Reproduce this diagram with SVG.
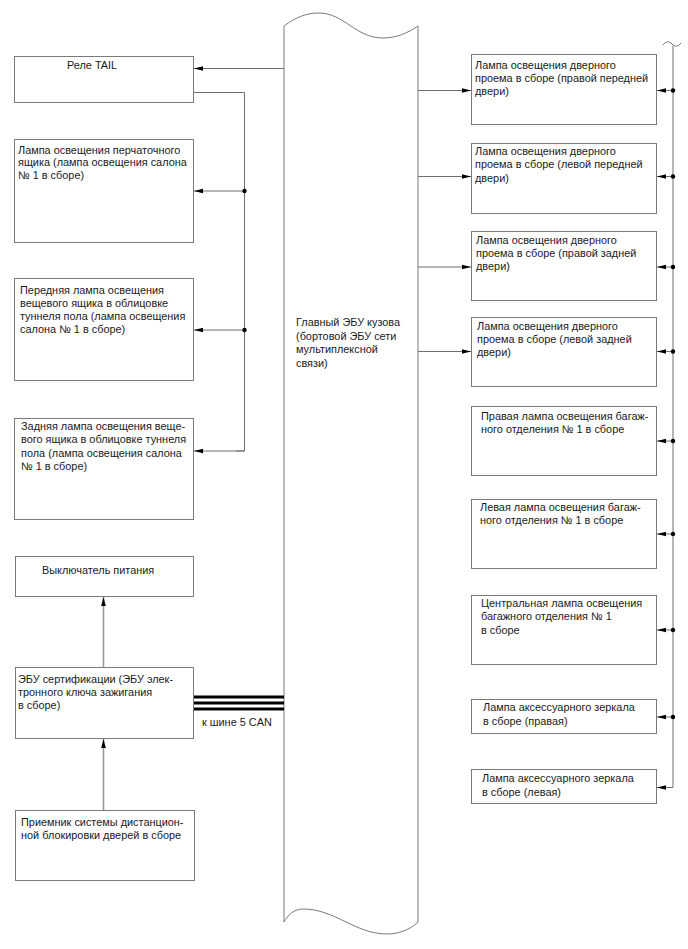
<svg xmlns="http://www.w3.org/2000/svg" width="688" height="949" viewBox="0 0 688 949">
<style>
  .box { fill: #ffffff; stroke: #7a7a7a; stroke-width: 1; }
  .t { font-family: "Liberation Sans", Arial, sans-serif; font-size: 10.9px; fill: #1a1a1a; }
  .ln { fill: none; stroke: #6e6e6e; stroke-width: 1; }
  .arr { marker-end: url(#ah); }
  .vln { fill: none; stroke: #9a9a9a; stroke-width: 1.6; marker-end: url(#ah); }
  .can { stroke: #000000; stroke-width: 3; }
  .dot { fill: #000000; }
</style>
<defs>
  <marker id="ah" markerUnits="userSpaceOnUse" markerWidth="10" markerHeight="8" viewBox="0 -4 10 8" refX="9" refY="0" orient="auto">
    <path d="M0,-2.3 L9,0 L0,2.3 z" fill="#000"/>
  </marker>
</defs>
<rect width="688" height="949" fill="#ffffff"/>

<g id="bus">
  <path class="box" d="M284,26 C296,17 307,13 318,13 C345,13 355,38 383,38 C396,38 408,33 418,26 L418,922 C410,930 398,934 387,934 C355,934 335,909 303,909 C294,909 288,915 284,922 Z"/>
  <text class="t" x="296" y="326">Главный ЭБУ кузова</text>
  <text class="t" x="296" y="339.5">(бортовой ЭБУ сети</text>
  <text class="t" x="296" y="353">мультиплексной</text>
  <text class="t" x="296" y="366.5">связи)</text>
</g>

<g id="relay_tail">
  <rect class="box" x="14.5" y="56.5" width="179" height="46"/>
  <text class="t" x="67" y="68.5">Реле TAIL</text>
</g>
<g id="glove_lamp">
  <rect class="box" x="14.5" y="139.5" width="179" height="103"/>
  <text class="t" x="18" y="153.5">Лампа освещения перчаточного</text>
  <text class="t" x="18" y="166">ящика (лампа освещения салона</text>
  <text class="t" x="18" y="178.5">№ 1 в сборе)</text>
</g>
<g id="front_console_lamp">
  <rect class="box" x="14.5" y="278.5" width="179" height="102"/>
  <text class="t" x="20" y="293.5">Передняя лампа освещения</text>
  <text class="t" x="20" y="306.8">вещевого ящика в облицовке</text>
  <text class="t" x="20" y="320">туннеля пола (лампа освещения</text>
  <text class="t" x="20" y="333.3">салона № 1 в сборе)</text>
</g>
<g id="rear_console_lamp">
  <rect class="box" x="14.5" y="418.5" width="179" height="101"/>
  <text class="t" x="21" y="430">Задняя лампа освещения веще-</text>
  <text class="t" x="21" y="443.3">вого ящика в облицовке туннеля</text>
  <text class="t" x="21" y="456.7">пола (лампа освещения салона</text>
  <text class="t" x="21" y="470">№ 1 в сборе)</text>
</g>
<g id="power_switch">
  <rect class="box" x="15.5" y="556.5" width="178" height="40"/>
  <text class="t" x="42" y="574">Выключатель питания</text>
</g>
<g id="cert_ecu">
  <rect class="box" x="15.5" y="667.5" width="178" height="71"/>
  <text class="t" x="18" y="682.5">ЭБУ сертификации (ЭБУ элек-</text>
  <text class="t" x="18" y="695.8">тронного ключа зажигания</text>
  <text class="t" x="18" y="709">в сборе)</text>
</g>
<g id="receiver">
  <rect class="box" x="15.5" y="810.5" width="179" height="70"/>
  <text class="t" x="21" y="825.5">Приемник системы дистанцион-</text>
  <text class="t" x="21" y="838.5">ной блокировки дверей в сборе</text>
</g>

<g id="door_rf">
  <rect class="box" x="471.5" y="54.5" width="185" height="70"/>
  <text class="t" x="475" y="68.5">Лампа освещения дверного</text>
  <text class="t" x="475" y="81.8">проема в сборе (правой передней</text>
  <text class="t" x="475" y="95">двери)</text>
</g>
<g id="door_lf">
  <rect class="box" x="471.5" y="143.5" width="185" height="70"/>
  <text class="t" x="475" y="155">Лампа освещения дверного</text>
  <text class="t" x="475" y="168.3">проема в сборе (левой передней</text>
  <text class="t" x="475" y="181.6">двери)</text>
</g>
<g id="door_rr">
  <rect class="box" x="471.5" y="231.5" width="185" height="69"/>
  <text class="t" x="476" y="243.5">Лампа освещения дверного</text>
  <text class="t" x="476" y="256.8">проема в сборе (правой задней</text>
  <text class="t" x="476" y="270">двери)</text>
</g>
<g id="door_lr">
  <rect class="box" x="471.5" y="317.5" width="185" height="69"/>
  <text class="t" x="477" y="329.5">Лампа освещения дверного</text>
  <text class="t" x="477" y="342.8">проема в сборе (левой задней</text>
  <text class="t" x="477" y="356">двери)</text>
</g>
<g id="luggage_r">
  <rect class="box" x="471.5" y="406.5" width="185" height="69"/>
  <text class="t" x="481" y="419.5">Правая лампа освещения багаж-</text>
  <text class="t" x="481" y="432.8">ного отделения № 1 в сборе</text>
</g>
<g id="luggage_l">
  <rect class="box" x="471.5" y="499.5" width="185" height="69"/>
  <text class="t" x="480" y="511">Левая лампа освещения багаж-</text>
  <text class="t" x="480" y="524.3">ного отделения № 1 в сборе</text>
</g>
<g id="luggage_c">
  <rect class="box" x="471.5" y="595.5" width="185" height="69"/>
  <text class="t" x="481" y="607">Центральная лампа освещения</text>
  <text class="t" x="481" y="620.3">багажного отделения № 1</text>
  <text class="t" x="481" y="633.6">в сборе</text>
</g>
<g id="mirror_r">
  <rect class="box" x="471.5" y="699.5" width="185" height="34"/>
  <text class="t" x="483" y="711">Лампа аксессуарного зеркала</text>
  <text class="t" x="483" y="724.5">в сборе (правая)</text>
</g>
<g id="mirror_l">
  <rect class="box" x="471.5" y="769.5" width="185" height="34"/>
  <text class="t" x="482" y="782">Лампа аксессуарного зеркала</text>
  <text class="t" x="482" y="795.5">в сборе (левая)</text>
</g>

<g id="connectors">
  <line class="ln arr" x1="284" y1="68.5" x2="194" y2="68.5"/>
  <polyline class="ln" points="194,92.5 244.5,92.5 244.5,451 236,451"/>
  <line class="ln arr" x1="244.5" y1="451" x2="194" y2="451"/>
  <line class="ln arr" x1="244.5" y1="191" x2="194" y2="191"/>
  <line class="ln arr" x1="244.5" y1="330" x2="194" y2="330"/>
  <circle class="dot" cx="244.5" cy="191" r="2.2"/>
  <circle class="dot" cx="244.5" cy="330" r="2.2"/>

  <line class="ln arr" x1="418" y1="90.5" x2="471" y2="90.5"/>
  <line class="ln arr" x1="418" y1="176.5" x2="471" y2="176.5"/>
  <line class="ln arr" x1="418" y1="267" x2="471" y2="267"/>
  <line class="ln arr" x1="418" y1="351.5" x2="471" y2="351.5"/>

  <path class="ln" d="M663,45 C666,41 669,41 672,44 C675,47 678,47 681,43"/>
  <polyline class="ln" points="673,46 673,787.5 666,787.5"/>
  <line class="ln arr" x1="673" y1="787.5" x2="657" y2="787.5"/>
  <line class="ln arr" x1="673" y1="90.5" x2="657" y2="90.5"/>
  <line class="ln arr" x1="673" y1="176.5" x2="657" y2="176.5"/>
  <line class="ln arr" x1="673" y1="267" x2="657" y2="267"/>
  <line class="ln arr" x1="673" y1="351.5" x2="657" y2="351.5"/>
  <line class="ln arr" x1="673" y1="441" x2="657" y2="441"/>
  <line class="ln arr" x1="673" y1="534" x2="657" y2="534"/>
  <line class="ln arr" x1="673" y1="630" x2="657" y2="630"/>
  <line class="ln arr" x1="673" y1="717" x2="657" y2="717"/>
  <circle class="dot" cx="673" cy="90.5" r="2.2"/>
  <circle class="dot" cx="673" cy="176.5" r="2.2"/>
  <circle class="dot" cx="673" cy="267" r="2.2"/>
  <circle class="dot" cx="673" cy="351.5" r="2.2"/>
  <circle class="dot" cx="673" cy="441" r="2.2"/>
  <circle class="dot" cx="673" cy="534" r="2.2"/>
  <circle class="dot" cx="673" cy="630" r="2.2"/>
  <circle class="dot" cx="673" cy="717" r="2.2"/>

  <line class="vln" x1="103.5" y1="667" x2="103.5" y2="597"/>
  <line class="vln" x1="103.5" y1="810" x2="103.5" y2="739"/>

  <line class="can" x1="194" y1="697" x2="284" y2="697"/>
  <line class="can" x1="194" y1="703" x2="284" y2="703"/>
  <line class="can" x1="194" y1="709" x2="284" y2="709"/>
  <text class="t" x="202" y="726">к шине 5 CAN</text>
</g>
</svg>
